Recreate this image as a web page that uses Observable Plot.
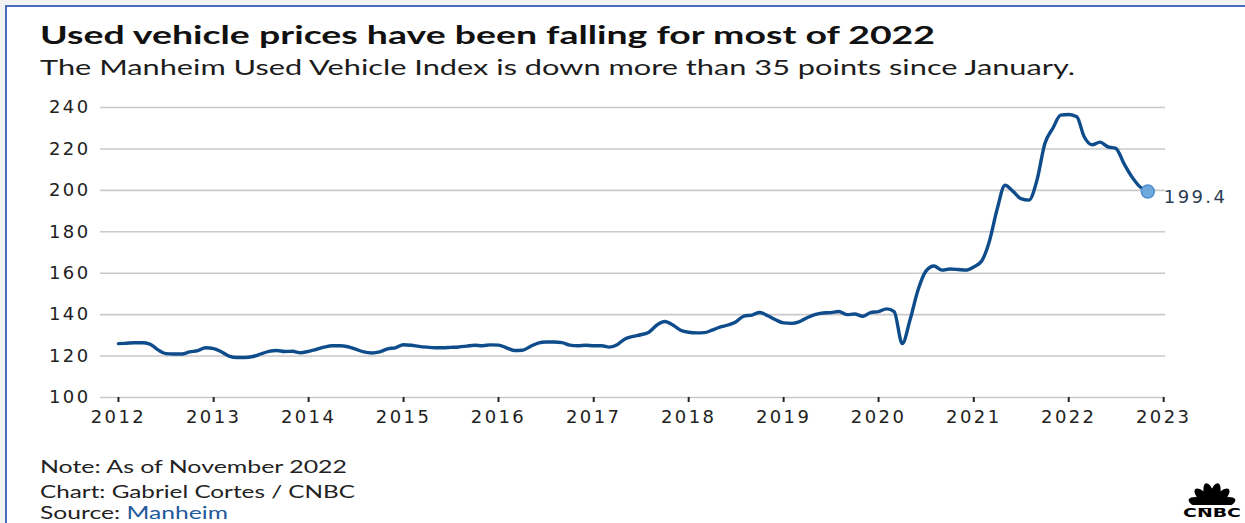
<!DOCTYPE html>
<html>
<head>
<meta charset="utf-8">
<script src="https://cdn.jsdelivr.net/npm/d3@7"></script>
<script src="https://cdn.jsdelivr.net/npm/@observablehq/plot@0.6"></script>
<style>
  html, body { margin: 0; padding: 0; }
  body { width: 1245px; height: 523px; background: #f3f3f3; position: relative; overflow: hidden; font-family: Lato, "DejaVu Sans", sans-serif; }
  #frame { position: absolute; left: 5px; top: 5px; width: 1260px; height: 540px; background: #fff; border-top: 2px solid #4a6cc0; border-left: 2px solid #4a6cc0; }
  .txt { position: absolute; left: 40px; white-space: nowrap; display: inline-block; transform-origin: 0 50%; color: #1a1a1a; }
  #title { top: 19px; font-size: 25px; font-weight: 700; color: #111; }
  #subtitle { top: 54px; font-size: 21px; color: #1c1c1c; }
  #note { top: 456px; font-size: 17px; color: #222; }
  #credit { top: 481px; font-size: 17px; color: #222; }
  #source { top: 502px; font-size: 17px; color: #222; }
  #source span { color: #1f5a9c; }
  #chart { position: absolute; left: 0; top: 90px; }
  #chart svg text { letter-spacing: 2.4px; }
  #logo { position: absolute; left: 1179px; top: 480px; }
</style>
</head>
<body>
<div id="frame"></div>
<div class="txt" id="title" data-w="895">Used vehicle prices have been falling for most of 2022</div>
<div class="txt" id="subtitle" data-w="1035">The Manheim Used Vehicle Index is down more than 35 points since January.</div>
<div id="chart"></div>
<div class="txt" id="note" data-w="307">Note: As of November 2022</div>
<div class="txt" id="credit" data-w="315">Chart: Gabriel Cortes / CNBC</div>
<div class="txt" id="source" data-w="188">Source: <span>Manheim</span></div>
<svg id="logo" width="66" height="40" viewBox="0 0 66 40">
  <g transform="translate(33,27)" fill="#000">
    <ellipse cx="0" cy="-12.5" rx="5" ry="12" transform="rotate(-72)"/>
    <ellipse cx="0" cy="-12.5" rx="5" ry="12" transform="rotate(-43)"/>
    <ellipse cx="0" cy="-12.5" rx="5" ry="12" transform="rotate(-14)"/>
    <ellipse cx="0" cy="-12.5" rx="5" ry="12" transform="rotate(14)"/>
    <ellipse cx="0" cy="-12.5" rx="5" ry="12" transform="rotate(43)"/>
    <ellipse cx="0" cy="-12.5" rx="5" ry="12" transform="rotate(72)"/>
    <rect x="-28" y="-2" width="56" height="3" fill="#fff"/>
  </g>
  <text x="33" y="37" text-anchor="middle" font-family="DejaVu Sans" font-weight="bold" font-size="12" fill="#000" textLength="58" lengthAdjust="spacingAndGlyphs">CNBC</text>
</svg>
<script>
// Manheim Used Vehicle Index, monthly values (Jan..Dec)
const values2012 = [126, 126.2, 126.4, 126.4, 125.8, 123, 121.2, 121, 121, 122, 122.6, 124];
const values2013 = [123.6, 122, 120, 119.3, 119.3, 119.8, 121, 122.3, 122.7, 122.2, 122.3, 121.6];
const values2014 = [122.3, 123.3, 124.3, 125, 125, 124.5, 123.3, 122, 121.5, 122, 123.5, 124];
const values2015 = [125.5, 125.2, 124.7, 124.3, 124, 124, 124.2, 124.4, 124.8, 125.2, 125, 125.4];
const values2016 = [125.3, 124, 122.7, 122.8, 124.5, 126.3, 126.8, 126.8, 126.5, 125.3, 125, 125.2];
const values2017 = [125, 125, 124.3, 125.5, 128.3, 129.5, 130.3, 131.5, 135, 136.7, 135, 132.5];
const values2018 = [131.5, 131.2, 131.3, 132.5, 134, 135, 136.5, 139.3, 139.8, 141, 139.5, 137.5];
const values2019 = [136, 135.8, 136.5, 138.5, 140, 140.8, 141, 141.5, 140, 140.3, 139.2, 141];
const values2020 = [141.5, 142.8, 141.5, 126, 137.5, 152, 161, 163.5, 161.5, 162, 161.8, 161.5];
const values2021 = [163, 166, 175, 191, 202.5, 199.5, 196, 195.3, 205, 222.5, 230, 236.3];
const values2022 = [236.6, 235.5, 226, 222, 223.3, 221, 220.3, 213, 206.5, 201.8, 199.4];

const years = [2012, 2013, 2014, 2015, 2016, 2017, 2018, 2019, 2020, 2021, 2022];
const yearValues = [values2012, values2013, values2014, values2015, values2016, values2017, values2018, values2019, values2020, values2021, values2022];
const yTicks = [100, 120, 140, 160, 180, 200, 220, 240];
const xTickYears = [2012, 2013, 2014, 2015, 2016, 2017, 2018, 2019, 2020, 2021, 2022, 2023];

const data = [];
years.forEach((yr, i) => yearValues[i].forEach((v, m) => data.push({date: new Date(yr, m, 1), value: v})));
const last = data[data.length - 1];

const chart = Plot.plot({
  width: 1245,
  height: 340,
  marginLeft: 100,
  marginRight: 80,
  marginTop: 17,
  marginBottom: 33,
  style: {fontFamily: "DejaVu Sans", fontSize: "18px", color: "#222", background: "transparent", overflow: "visible"},
  x: {type: "time", domain: [new Date(2011, 9, 24), new Date(2023, 0, 8)]},
  y: {domain: [100, 240]},
  marks: [
    Plot.ruleY(yTicks, {stroke: "#c9c9c9", strokeWidth: 1.6}),
    Plot.axisY({ticks: yTicks, tickSize: 0, tickPadding: 10, label: null, fontSize: 18}),
    Plot.axisX({ticks: xTickYears.map(y => new Date(y, 0, 1)), tickFormat: d3.timeFormat("%Y"), tickSize: 5, tickPadding: 8, strokeWidth: 2, label: null, fontSize: 18}),
    Plot.line(data, {x: "date", y: "value", stroke: "#0f4c8c", strokeWidth: 3.4, curve: "monotone-x"}),
    Plot.dot([last], {x: "date", y: "value", r: 6.5, fill: "#6ea8dc", stroke: "#4d8fd1", strokeWidth: 1.5}),
    Plot.text([last], {x: "date", y: "value", text: d => d.value.toFixed(1), dx: 16, dy: 6, textAnchor: "start", fill: "#2b3d55", fontSize: 18})
  ]
});
document.getElementById("chart").appendChild(chart);

// fit text blocks to the widths measured on the reference
document.querySelectorAll(".txt").forEach(el => {
  const target = +el.dataset.w;
  const w = el.getBoundingClientRect().width;
  if (w > 0) el.style.transform = `scaleX(${target / w})`;
});
</script>
</body>
</html>
